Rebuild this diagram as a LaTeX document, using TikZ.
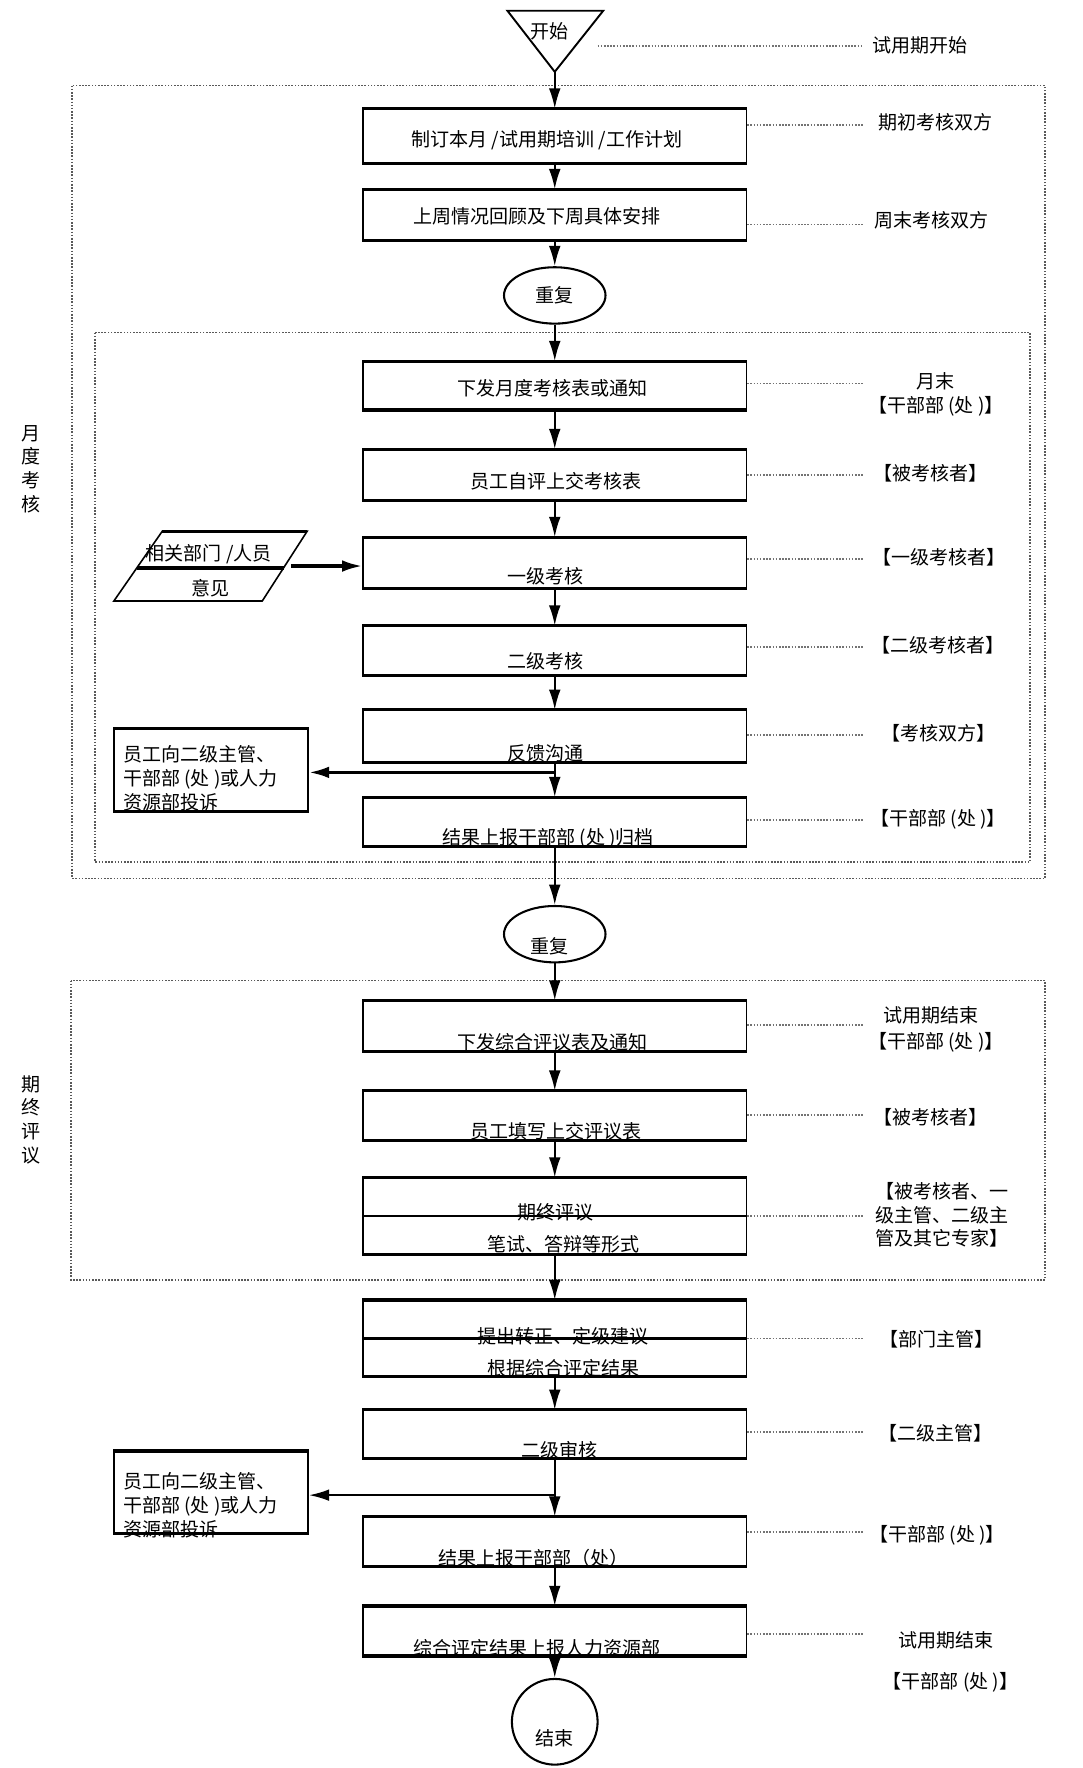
\documentclass[tikz,border=0pt]{standalone}
\usepackage{fontspec}
\setmainfont{Noto Sans CJK SC}
\usetikzlibrary{arrows.meta,shapes.geometric}
\tikzset{>={Latex[length=4.5mm,width=2.6mm]}}
\tikzset{
  txt/.style={font=\fontsize{12}{15}\selectfont, inner sep=0pt},
  stagebox/.style={draw, line width=0.9pt, minimum width=8.5cm, minimum height=1.1cm, inner sep=0pt},
  loopnode/.style={draw, ellipse, line width=1.3pt, minimum width=2.25cm, minimum height=1.25cm, inner sep=0pt, txt},
  plainbox/.style={draw, line width=0.9pt, minimum width=4.3cm, minimum height=1.8cm, inner sep=0pt},
  frame/.style={densely dotted, line width=1pt, black!65},
  leader/.style={densely dotted, line width=1pt, black!55},
  flow/.style={->, line width=1.3pt},
}

\begin{document}
\begin{tikzpicture}[x=0.025cm, y=-0.025cm]
  \useasboundingbox (0,0) rectangle (960,1568);
  % dotted frames
  \draw[frame] (64,76) rectangle (927,779);
  \draw[frame] (84.5,295) rectangle (913.5,764.5);
  \draw[frame] (63,869.6) rectangle (927,1135);
  % start
  \coordinate (start) at (492,63.7);
  \draw[line width=1.2pt] (450,9.5) -- (535,9.5) -- (start) -- cycle;
  \node[txt] (t0) at (487,28) {开始};
  % main column
  \node[stagebox, minimum height=1.175cm] (b1) at (492,120.5) {};
  \node[stagebox] (b2) at (492,190.5) {};
  \node[loopnode] (c1) at (492,262) {重复};
  \node[stagebox, minimum height=1.05cm] (b3) at (492,342) {};
  \node[stagebox] (b4) at (492,421) {};
  \node[stagebox] (b5) at (492,499) {};
  \node[stagebox, minimum height=1.075cm] (b6) at (492,577) {};
  \node[stagebox, minimum height=1.14cm] (b7) at (492,653) {};
  \node[stagebox, minimum height=1.065cm] (b8) at (492,729) {};
  \node[loopnode] (c2) at (492,828.5) {};
  \node[stagebox] (b9) at (492,910) {};
  \node[stagebox, minimum height=1.075cm] (b10) at (492,989.5) {};
  \node[stagebox, minimum height=1.675cm] (b11) at (492,1078.5) {};
  \node[stagebox, minimum height=1.67cm] (b12) at (492,1187) {};
  \node[stagebox, minimum height=1.05cm] (b13) at (492,1272) {};
  \node[stagebox, minimum height=1.065cm] (b14) at (492,1367) {};
  \node[stagebox, minimum height=1.075cm] (b15) at (492,1446.5) {};
  \node[loopnode, minimum width=1.9cm, minimum height=1.9cm] (c3) at (492,1527) {};
  % side boxes
  \node[plainbox] (cb1) at (187.3,683) {};
  \node[plainbox] (cb2) at (187.3,1323.5) {};
  \foreach \i in {1,...,15}
    \draw[line width=2pt] (b\i.north west) -- (b\i.north east) (b\i.south west) -- (b\i.south east);
  \foreach \b in {cb1,cb2}
    \draw[line width=2pt] (\b.north west) -- (\b.north east) (\b.south west) -- (\b.south east);
  \draw[line width=1pt] (b11.west) -- (b11.east);
  \draw[line width=1.6pt] (b12.west) -- (b12.east);
  % opinion parallelogram
  \draw[line width=1pt] (144,471) -- (272.5,471) -- (232.6,533) -- (101,533) -- cycle;
  \draw[line width=2pt] (144,471) -- (272.5,471) (121.3,503.7) -- (251.5,503.7);
  \coordinate (opin) at (258,502);
  % arrows
  \foreach \a/\b in {start/b1, b1/b2, b2/c1, c1/b3, b3/b4, b4/b5, b5/b6, b6/b7, b7/b8, b8/c2,
                     c2/b9, b9/b10, b10/b11, b11/b12, b12/b13, b13/b14, b14/b15, b15/c3}
    \draw[flow] (\a) -- (\b);
  \draw[flow, line width=2pt] (opin) -- (b5.west |- opin);
  \coordinate (br1) at (492,685);
  \coordinate (br2) at (492,1326);
  \draw[flow, line width=2pt] (br1) -- (cb1.east |- br1);
  \draw[flow] (br2) -- (cb2.east |- br2);
  % dotted leaders
  \coordinate (s0) at (530,41);
  \coordinate (l0) at (766,41);
  \draw[leader] (s0) -- (l0);
  \foreach \i/\y in {1/111, 2/199, 3/340, 4/421, 5/496, 6/574, 7/652, 8/727, 9/909, 10/989,
                     11/1078.5, 12/1187, 13/1270, 14/1358.5, 15/1449} {
    \coordinate (l\i) at (766,\y);
    \draw[leader] (b\i.east |- l\i) -- (l\i);
  }
  % box texts
  \node[txt] (t1) at (485,124) {制订本月 /试用期培训 /工作计划};
  \node[txt] (t2) at (476,192) {上周情况回顾及下周具体安排};
  \node[txt] (t3) at (490,344) {下发月度考核表或通知};
  \node[txt] (t4) at (493,426.7) {员工自评上交考核表};
  \node[txt] (t5) at (484,511) {一级考核};
  \node[txt] (t6) at (484,586.7) {二级考核};
  \node[txt] (t7) at (484,668) {反馈沟通};
  \node[txt] (t8) at (486,743.7) {结果上报干部部 (处 )归档};
  \node[txt] (t9) at (487,839) {重复};
  \node[txt] (t10) at (490,924.4) {下发综合评议表及通知};
  \node[txt] (t11) at (493,1003) {员工填写上交评议表};
  \node[txt] (t12) at (493,1075.6) {期终评议};
  \node[txt] (t13) at (500,1103.7) {笔试、答辩等形式};
  \node[txt] (t14) at (499,1185) {提出转正、定级建议};
  \node[txt] (t15) at (500,1213) {根据综合评定结果};
  \node[txt] (t16) at (496,1286) {二级审核};
  \node[txt] (t17) at (473,1382) {结果上报干部部（处）};
  \node[txt] (t18) at (476,1462) {综合评定结果上报人力资源部};
  \node[txt] (t19) at (492,1542) {结束};
  % left texts
  \node[txt, align=center] (m1) at (27.5,416) {月\\度\\考\\核};
  \node[txt, align=center] (m2) at (27.5,993) {期\\终\\评\\议};
  \node[txt, align=left, anchor=west] (p1) at (109,690) {员工向二级主管、\\干部部 (处 )或人力\\资源部投诉};
  \node[txt, align=left, anchor=west] (p2) at (109,1335) {员工向二级主管、\\干部部 (处 )或人力\\资源部投诉};
  \node[txt] (q1) at (185,491.8) {相关部门 /人员};
  \node[txt] (q2) at (187,521.5) {意见};
  % right texts
  \node[txt] (n0) at (815.6,40) {试用期开始};
  \node[txt] (n1) at (830,108) {期初考核双方};
  \node[txt] (n2) at (826,195.6) {周末考核双方};
  \node[txt, align=center] (n3) at (830,349.5) {月末\\【干部部 (处 )】};
  \node[txt] (n4) at (825,420) {【被考核者】};
  \node[txt] (n5) at (832.6,494) {【一级考核者】};
  \node[txt] (n6) at (832,572) {【二级考核者】};
  \node[txt] (n7) at (832,650) {【考核双方】};
  \node[txt] (n8) at (832,727) {【干部部 (处 )】};
  \node[txt] (n9) at (826,900) {试用期结束};
  \node[txt] (n9b) at (830,924.4) {【干部部 (处 )】};
  \node[txt] (n10) at (825,991) {【被考核者】};
  \node[txt, align=left, anchor=west] (n11) at (776,1077.5) {【被考核者、一\\级主管、二级主\\管及其它专家】};
  \node[txt] (n12) at (830.5,1187.6) {【部门主管】};
  \node[txt] (n13) at (830,1271) {【二级主管】};
  \node[txt] (n14) at (831,1361.6) {【干部部 (处 )】};
  \node[txt] (n15) at (839,1455) {试用期结束};
  \node[txt] (n15b) at (843,1491.7) {【干部部 (处 )】};
\end{tikzpicture}
\end{document}
